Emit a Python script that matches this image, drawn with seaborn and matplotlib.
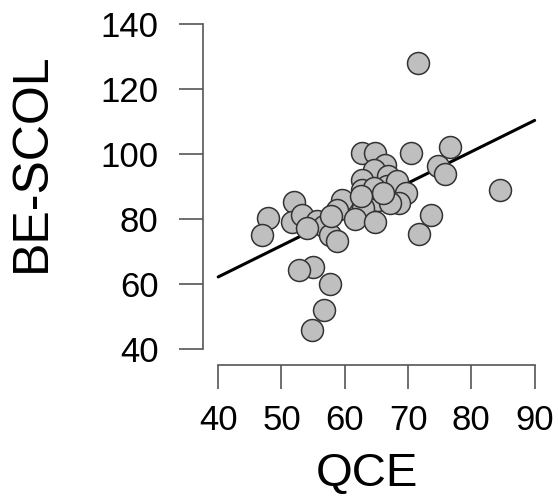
import numpy as np
import pandas as pd
import matplotlib
matplotlib.use("Agg")
import matplotlib.pyplot as plt
import seaborn as sns

# valores
qce = [71.6, 76.6, 70.5, 62.8, 64.8, 74.7, 75.8, 84.5, 66.3, 64.6,
       62.8, 62.7, 66.8, 66.6, 68.3, 69.6, 68.6, 65.3, 64.6, 67.2,
       62.9, 59.6, 58.7, 61.6, 64.8, 73.6, 71.8, 52.0, 51.7, 47.8,
       47.0, 53.3, 55.6, 56.7, 57.7, 58.7, 55.0, 52.8, 57.7, 56.7,
       54.8, 54.0, 57.8, 66.0, 62.5]
be_scol = [128.0, 102.3, 100.2, 100.2, 100.2, 96.3, 94.0, 89.0, 96.5, 95.2,
           92.0, 88.8, 93.3, 90.2, 91.6, 88.0, 84.8, 86.0, 89.5, 85.0,
           83.3, 86.0, 82.8, 80.0, 79.2, 81.2, 75.3, 85.2, 79.2, 80.2,
           75.1, 81.2, 79.5, 77.8, 75.2, 73.2, 65.3, 64.3, 60.1, 52.0,
           46.0, 77.2, 80.8, 88.0, 87.0]

df = pd.DataFrame({"QCE": qce, "BE-SCOL": be_scol})

sns.set_style("white")
plt.rcParams["font.family"] = ["Liberation Sans", "DejaVu Sans"]

fig = plt.figure(figsize=(5.58, 4.97), dpi=100)
ax = fig.add_axes([0.3638, 0.2656, 0.6057, 0.6992])

# reta de regressao de 40 a 90
b, a = np.polyfit(df["QCE"], df["BE-SCOL"], 1)
xs = np.array([40, 90])
ax.plot(xs, a + b * xs, color="black", lw=2.2, zorder=1)

sns.scatterplot(df, x="QCE", y="BE-SCOL", ax=ax, s=250,
                color="#bfbfbf", edgecolor="#333333", linewidth=1.1, zorder=2)

ax.set_xlim(37.6, 91)
ax.set_ylim(35.1, 142)
ax.set_xticks([40, 50, 60, 70, 80, 90])
ax.set_yticks([40, 60, 80, 100, 120, 140])

for s in ["top", "right"]:
    ax.spines[s].set_visible(False)
ax.spines["left"].set_bounds(40, 140)
ax.spines["bottom"].set_bounds(40, 90)
for s in ["left", "bottom"]:
    ax.spines[s].set_color("#555555")
    ax.spines[s].set_linewidth(1.2)

ax.tick_params(axis="both", length=17, width=1.2, color="#555555",
               labelsize=25, labelcolor="black", direction="out",
               bottom=True, left=True)
ax.tick_params(axis="y", pad=15)
ax.tick_params(axis="x", pad=11)

ax.set_xlabel("QCE", fontsize=34, color="black")
ax.set_ylabel("BE-SCOL", fontsize=36, color="black")
ax.xaxis.set_label_coords(0.485, -0.25)
ax.yaxis.set_label_coords(-0.438, 0.584)

plt.savefig("out.png", dpi=100)
